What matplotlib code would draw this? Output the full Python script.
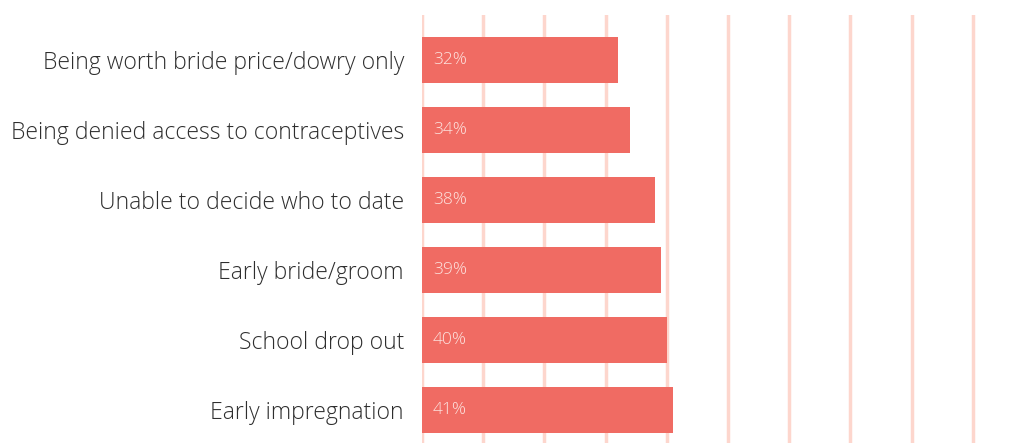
import matplotlib.pyplot as plt

categories = ["Being worth bride price/dowry only",
              "Being denied access to contraceptives",
              "Unable to decide who to date",
              "Early bride/groom",
              "School drop out",
              "Early impregnation"]
values = [32, 34, 38, 39, 40, 41]
grid_ticks = [0, 10, 20, 30, 40, 50, 60, 70, 80, 90]

plt.rcParams['font.family'] = ['Open Sans', 'DejaVu Sans']

fig = plt.figure(figsize=(10.26, 4.43), dpi=100)
ax = fig.add_axes([422 / 1026, 0, 1 - 422 / 1026, 1 - 15 / 443])

ypos = list(range(len(categories)))
ax.barh(ypos, values, height=0.66, color="#f06b63", zorder=2)

for x in grid_ticks:
    ax.axvline(x, color="#fdd6cd", lw=2.5, zorder=1)

for y, v in zip(ypos, values):
    ax.text(1.8, y, f"{v}%", va="center", ha="left", color="#fde4e0",
            fontsize=12.5, fontweight="light", zorder=3)

ax.set_xlim(0, 98.7)
ax.set_ylim(5.47, -0.643)
ax.set_yticks(ypos)
ax.set_yticklabels(categories, fontsize=16.6, color="#2e2e2e", fontweight="light")
ax.tick_params(axis="y", length=0, pad=13)
ax.set_xticks([])
for s in ax.spines.values():
    s.set_visible(False)

fig.savefig("out.png", dpi=100)
